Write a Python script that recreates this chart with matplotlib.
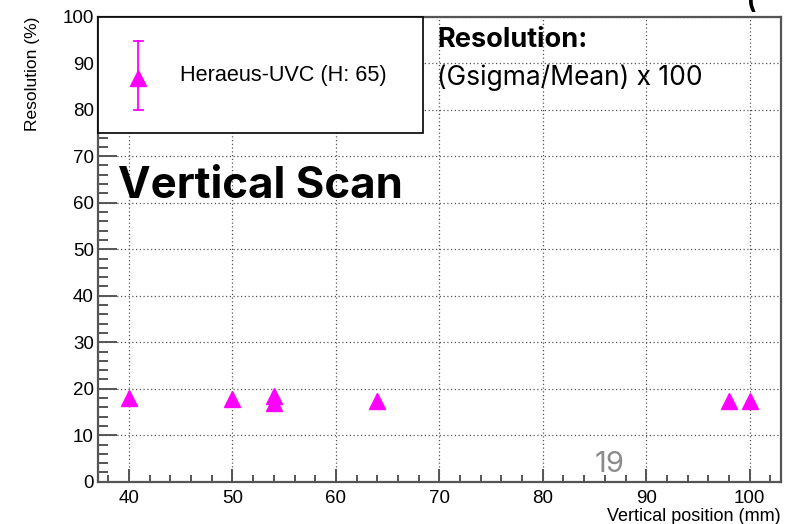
import numpy as np
import matplotlib.pyplot as plt
from matplotlib.patches import Rectangle
from matplotlib.lines import Line2D
from matplotlib.ticker import MultipleLocator

# vertical scan points (position in mm, resolution in %)
position = [40, 50, 54, 54, 64, 98, 100]
resolution = [18.1, 17.7, 18.4, 16.9, 17.4, 17.4, 17.4]

legend_label = 'Heraeus-UVC (H: 65)'
MAGENTA = '#ff00ff'
FRAME = '#555555'

fig = plt.figure(figsize=(7.88, 5.24), dpi=100)
ax = fig.add_axes([98/788, 1-481.7/524, (780.7-98)/788, (481.7-16.7)/524])

ax.plot(position, resolution, linestyle='none', marker='^', markersize=11,
        color=MAGENTA, markeredgecolor=MAGENTA, zorder=3)

ax.set_xlim(37, 103)
ax.set_ylim(0, 100)
ax.xaxis.set_major_locator(MultipleLocator(10))
ax.xaxis.set_minor_locator(MultipleLocator(2))
ax.yaxis.set_major_locator(MultipleLocator(10))
ax.yaxis.set_minor_locator(MultipleLocator(2))
ax.grid(True, which='major', linestyle=(0, (1, 2)), color='#555555', linewidth=0.9)
ax.set_axisbelow(True)

for s in ax.spines.values():
    s.set_color(FRAME)
    s.set_linewidth(1.6)
ax.tick_params(axis='both', which='both', direction='in', color=FRAME, width=1.4,
               labelsize=13.5, labelfontfamily='Liberation Sans')
ax.tick_params(axis='x', which='major', length=9.5, pad=6)
ax.tick_params(axis='x', which='minor', length=5)
ax.tick_params(axis='y', which='major', length=14, pad=3)
ax.tick_params(axis='y', which='minor', length=7)

ax.set_xlabel('Vertical position (mm)', fontsize=13, family='Liberation Sans',
              loc='right', labelpad=1)
ax.set_ylabel('Resolution (%)', fontsize=12.5, family='Liberation Sans',
              loc='top', labelpad=16)

# legend box drawn ROOT style in the top left corner
x0, y0 = 98/788, 1-132.7/524
w, h = (423-98)/788, (132.7-16.7)/524
fig.patches.append(Rectangle((x0, y0), w, h, transform=fig.transFigure,
                             facecolor='white', edgecolor='black', linewidth=1.2, zorder=5))
ex = 138/788
fig.lines.append(Line2D([ex, ex], [1-41/524, 1-110/524], transform=fig.transFigure,
                       color=MAGENTA, linewidth=1.3, zorder=6))
for cy in (41, 110):
    fig.lines.append(Line2D([ex-4.5/788, ex+4.5/788], [1-cy/524, 1-cy/524],
                           transform=fig.transFigure, color=MAGENTA, linewidth=1.3, zorder=6))
fig.lines.append(Line2D([ex], [1-78/524], transform=fig.transFigure, marker='^',
                       markersize=12, color=MAGENTA, zorder=7))
fig.text(180/788, 1-76/524, legend_label, fontsize=15.6, family='Liberation Sans',
         va='center', ha='left', zorder=8)

# slide annotations
fig.text(437/788, 1-46.7/524, 'Resolution:', fontsize=19.5, fontweight='bold',
         family='Inter', va='baseline', ha='left')
fig.text(437/788, 1-85/524, '(Gsigma/Mean) x 100', fontsize=19,
         family='Inter', va='baseline', ha='left')
fig.text(118/788, 1-198.3/524, 'Vertical Scan', fontsize=31.5, fontweight='bold',
         family='Inter', va='baseline', ha='left')
fig.text(610/788, 1-465/524, '19', fontsize=21, color='#8c8c8c',
         family='Inter', va='center', ha='center')
fig.text(752/788, 0.995, '(', fontsize=18, fontweight='bold', family='Inter',
         va='center', ha='center')

fig.savefig('out.png', dpi=100)
